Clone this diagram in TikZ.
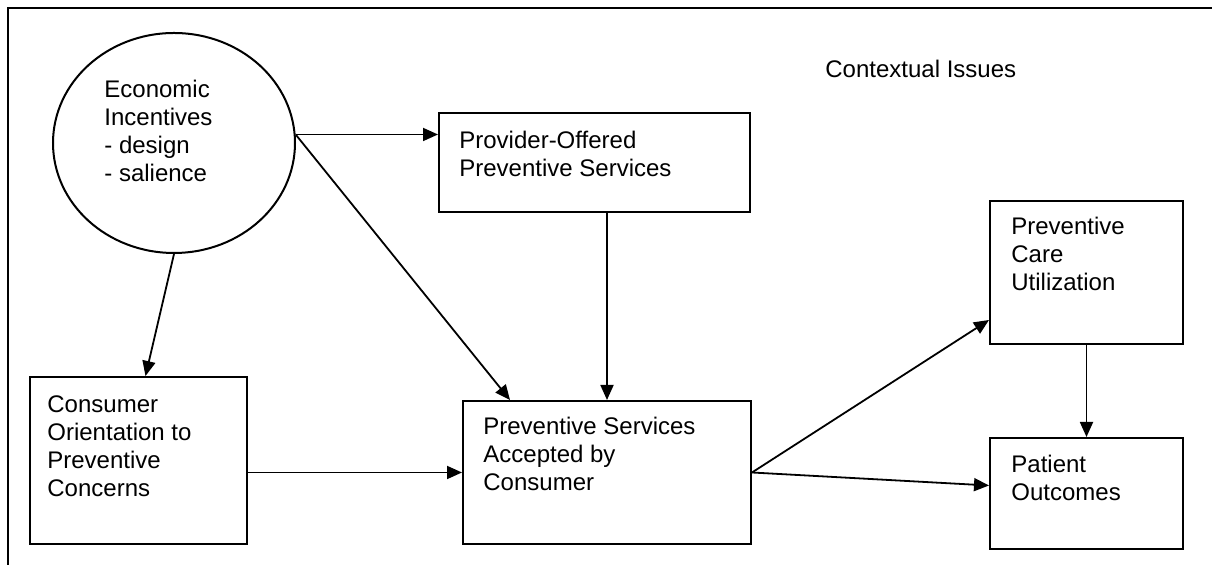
\documentclass[tikz,border=0pt]{standalone}
\usepackage{fontspec}
\setmainfont{Liberation Sans}
\usetikzlibrary{arrows.meta,shapes.geometric}

\tikzset{
  box/.style={draw, line width=1pt, anchor=north west, inner sep=0pt},
  txt/.style={anchor=north west, align=left, inner sep=0pt},
  arr/.style={-{Triangle[length=7.5pt,width=6.5pt]}, line width=0.9pt},
}

\begin{document}
\begin{tikzpicture}
    [x=0.5pt, y=-0.5pt, font=\fontsize{12}{14}\selectfont]

    \useasboundingbox (0,0) rectangle (1212,565);

    % open frame
    \draw [line width=1pt] (1212,8) -- (8,8) -- (8,565);

    \node at (825, 78) (ctx) [anchor=base west, inner sep=0pt] {Contextual Issues};

    \node at (174, 143) (econ) [ellipse, draw, line width=1pt, inner sep=0pt,
        minimum width=121pt, minimum height=110pt] {};
    \node at (104, 80) (econt) [txt] {Economic\\Incentives\\- design\\- salience};

    \node at (438, 112) (prov) [box, minimum width=155.5pt, minimum height=49.5pt] {};
    \node at (462, 400) (acc)  [box, minimum width=144pt,   minimum height=71.5pt] {};
    \node at (29, 376)  (cons) [box, minimum width=108.5pt, minimum height=83.5pt] {};
    \node at (989, 200) (care) [box, minimum width=96.5pt,  minimum height=71.5pt] {};
    \node at (989, 437) (pat)  [box, minimum width=96.5pt,  minimum height=55.5pt] {};

    \node at (459, 131) (provt) [txt] {Provider-Offered\\Preventive Services};
    \node at (483, 417) (acct)  [txt] {Preventive Services\\Accepted by\\Consumer};
    \node at (47, 395)  (const) [txt] {Consumer\\Orientation to\\Preventive\\Concerns};
    \node at (1011, 217) (caret) [txt] {Preventive\\Care\\Utilization};
    \node at (1011, 455) (patt)  [txt] {Patient\\Outcomes};

    \draw [arr] (econ.4) -- (econ.4 -| prov.west);
    \draw [arr] (econ.4) -- ([xshift=24pt]acc.north west);
    \draw [arr] (econ.south) -- ([xshift=3.5pt]cons.north);

    \draw [arr] (cons.east |- acc.west) -- (acc.west);
    \draw [arr] (prov.south -| acc.north) -- (acc.north);

    \draw [arr] (acc.east) -- ([yshift=12.5pt]care.south west);
    \draw [arr] (acc.east) -- ([yshift=4pt]pat.west);
    \draw [arr] (care.south) -- (pat.north);

  \end{tikzpicture}
\end{document}
